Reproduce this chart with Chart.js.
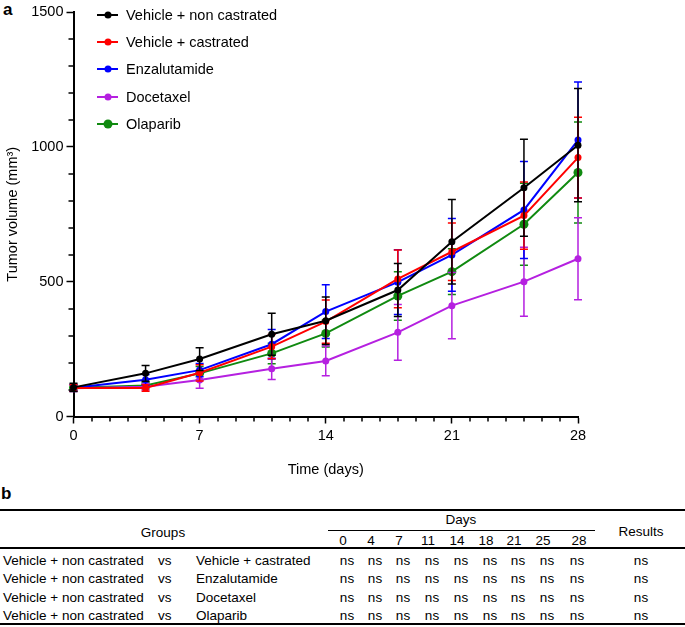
<!DOCTYPE html>
<html>
<head>
<meta charset="utf-8">
<script src="https://cdn.jsdelivr.net/npm/chart.js@4.4.1/dist/chart.umd.min.js"></script>
<style>
  body { margin: 0; background: #fff; font-family: "Liberation Sans", Arial, sans-serif; color: #000; }
  #wrap { position: relative; width: 685px; height: 627px; overflow: hidden; }
  #chartBox { position: absolute; left: 0; top: 0; width: 685px; height: 480px; }
  .panel { position: absolute; font-weight: bold; font-size: 17px; line-height: 1; }
  .leg-row { position: absolute; left: 97px; height: 18px; transform: translateY(-50%); display: flex; align-items: center; font-size: 14.5px; white-space: nowrap; }
  .leg-sym { position: relative; width: 21px; height: 18px; margin-right: 8px; }
  .leg-sym .ln { position: absolute; left: 0; right: 0; top: 8px; height: 2px; }
  .leg-sym .dot { position: absolute; left: 50%; top: 9px; border-radius: 50%; transform: translate(-50%, -50%); }
  .cell { position: absolute; font-size: 13.5px; white-space: nowrap; line-height: 1; }
  .c { transform: translate(-50%, -50%); }
  .l { transform: translateY(-50%); }
  .rule { position: absolute; background: #000; }
</style>
</head>
<body>
<div id="wrap">
  <div class="panel" style="left:3px;top:1px;">a</div>
  <div id="chartBox"><canvas id="tumorChart"></canvas></div>
  <div id="legend"></div>
  <div class="panel" style="left:1px;top:485px;">b</div>
  <div id="statsTable"></div>
</div>

<script>
const days = [0, 4, 7, 11, 14, 18, 21, 25, 28];

const groupNames = ['Vehicle + non castrated', 'Vehicle + castrated', 'Enzalutamide', 'Docetaxel', 'Olaparib'];
const groupColors = ['#000000', '#ff0000', '#0000ff', '#b520e0', '#108a10'];

// mean tumour volume (mm3) and SEM per day
const nonCastrated    = [108, 160, 213, 305, 355, 469, 648, 848, 1006];
const nonCastratedSem = [15, 29, 42, 78, 88, 98, 157, 180, 210];
const castrated       = [106, 106, 162, 259, 352, 510, 611, 745, 960];
const castratedSem    = [12, 12, 30, 45, 80, 107, 107, 125, 150];
const enzalutamide    = [107, 136, 172, 268, 389, 498, 599, 766, 1025];
const enzalutamideSem = [12, 20, 25, 55, 100, 120, 135, 180, 215];
const docetaxel       = [105, 110, 135, 177, 206, 312, 411, 500, 585];
const docetaxelSem    = [12, 12, 30, 40, 55, 103, 123, 128, 152];
const olaparib        = [107, 115, 160, 234, 308, 447, 537, 713, 905];
const olaparibSem     = [12, 12, 25, 38, 50, 90, 85, 152, 187];

const yTicks = [0, 500, 1000, 1500];
const xTicks = [0, 7, 14, 21, 28];

// panel b
const comparedWith = ['Vehicle + castrated', 'Enzalutamide', 'Docetaxel', 'Olaparib'];
const dayResults = [
  ['ns', 'ns', 'ns', 'ns', 'ns', 'ns', 'ns', 'ns', 'ns'],
  ['ns', 'ns', 'ns', 'ns', 'ns', 'ns', 'ns', 'ns', 'ns'],
  ['ns', 'ns', 'ns', 'ns', 'ns', 'ns', 'ns', 'ns', 'ns'],
  ['ns', 'ns', 'ns', 'ns', 'ns', 'ns', 'ns', 'ns', 'ns']
];
const overallResults = ['ns', 'ns', 'ns', 'ns'];

const means = [nonCastrated, castrated, enzalutamide, docetaxel, olaparib];
const sems = [nonCastratedSem, castratedSem, enzalutamideSem, docetaxelSem, olaparibSem];

const errorBars = {
  id: 'errorBars',
  beforeDatasetDraw(chart, args) {
    const ds = chart.data.datasets[args.index];
    const yScale = chart.scales.y;
    const ctx = chart.ctx;
    ctx.save();
    ctx.strokeStyle = ds.borderColor;
    ctx.lineWidth = 1.5;
    args.meta.data.forEach((pt, i) => {
      const v = ds.data[i].y;
      const e = ds.sem[i];
      const top = yScale.getPixelForValue(v + e);
      const bot = yScale.getPixelForValue(v - e);
      ctx.beginPath();
      ctx.moveTo(pt.x, top); ctx.lineTo(pt.x, bot);
      ctx.moveTo(pt.x - 4, top); ctx.lineTo(pt.x + 4, top);
      ctx.moveTo(pt.x - 4, bot); ctx.lineTo(pt.x + 4, bot);
      ctx.stroke();
    });
    ctx.restore();
  }
};

// small ticks every day / every 100 mm3
const minorTicks = {
  id: 'minorTicks',
  afterDraw(chart) {
    const { ctx, chartArea, scales } = chart;
    ctx.save();
    ctx.strokeStyle = '#000';
    ctx.lineWidth = 1.5;
    ctx.beginPath();
    for (let d = 0; d <= 28; d++) {
      if (xTicks.includes(d)) continue;
      const px = Math.round(scales.x.getPixelForValue(d));
      ctx.moveTo(px, chartArea.bottom); ctx.lineTo(px, chartArea.bottom + 5);
    }
    for (let v = 0; v <= 1500; v += 100) {
      if (yTicks.includes(v)) continue;
      const py = Math.round(scales.y.getPixelForValue(v));
      ctx.moveTo(chartArea.left - 5, py); ctx.lineTo(chartArea.left, py);
    }
    ctx.stroke();
    ctx.restore();
  }
};

const axisFont = { family: '"Liberation Sans", Arial, sans-serif', size: 14.5 };

const chart = new Chart(document.getElementById('tumorChart'), {
  type: 'line',
  data: {
    datasets: groupNames.map((name, g) => ({
      label: name,
      data: days.map((d, i) => ({ x: d, y: means[g][i] })),
      sem: sems[g],
      borderColor: groupColors[g],
      backgroundColor: groupColors[g],
      pointBackgroundColor: groupColors[g],
      pointBorderWidth: 0,
      pointRadius: g === 4 ? 4.5 : 3.5,
      borderWidth: 2,
      tension: 0,
      clip: false
    }))
  },
  options: {
    responsive: true,
    maintainAspectRatio: false,
    animation: false,
    layout: { padding: { top: 12, right: 107, left: 0, bottom: 0 } },
    plugins: { legend: { display: false }, tooltip: { enabled: false } },
    scales: {
      x: {
        type: 'linear', min: 0, max: 28,
        afterBuildTicks: s => { s.ticks = xTicks.map(v => ({ value: v })); },
        afterFit: s => { s.height = 63.5; },
        ticks: { color: '#000', font: axisFont, padding: 4, maxRotation: 0, callback: v => String(v) },
        grid: { drawOnChartArea: false, tickLength: 7, tickColor: '#000', tickWidth: 1.5 },
        border: { color: '#000', width: 2 },
        title: { display: true, text: 'Time (days)', color: '#000', font: axisFont, padding: { top: 0, bottom: 1 } }
      },
      y: {
        min: 0, max: 1500,
        afterBuildTicks: s => { s.ticks = yTicks.map(v => ({ value: v })); },
        afterFit: s => { s.width = 73.5; },
        ticks: { color: '#000', font: axisFont, padding: 3, callback: v => String(v) },
        grid: { drawOnChartArea: false, tickLength: 7, tickColor: '#000', tickWidth: 1.5 },
        border: { color: '#000', width: 2 },
        title: { display: true, text: 'Tumor volume (mm³)', color: '#000', font: axisFont, padding: { top: 4, bottom: 0 } }
      }
    }
  },
  plugins: [errorBars, minorTicks]
});

function renderLegend() {
  const box = document.getElementById('legend');
  const rowY = [14.5, 41.8, 69, 96.5, 123.5];
  box.innerHTML = chart.data.datasets.map((ds, i) => {
    const r = ds.pointRadius * 2;
    return `<div class="leg-row" style="top:${rowY[i]}px">
      <div class="leg-sym"><div class="ln" style="background:${ds.borderColor}"></div>
      <div class="dot" style="width:${r}px;height:${r}px;background:${ds.borderColor}"></div></div>
      <span>${ds.label}</span></div>`;
  }).join('');
}

function renderTable() {
  const el = document.getElementById('statsTable');
  const headX = [343, 371, 399, 428, 457, 486, 514, 543, 579];
  const cellX = [347, 375, 403, 432, 461, 490, 518, 547, 577];
  const rowY = [561, 579, 597.5, 616];
  let html = '';
  html += `<div class="rule" style="left:0;top:509px;width:685px;height:1.5px"></div>`;
  html += `<div class="rule" style="left:328px;top:529.5px;width:267px;height:1.3px"></div>`;
  html += `<div class="rule" style="left:0;top:547px;width:685px;height:1.5px"></div>`;
  html += `<div class="rule" style="left:0;top:623px;width:685px;height:1.5px"></div>`;
  html += `<div class="cell c" style="left:163px;top:533px">Groups</div>`;
  html += `<div class="cell c" style="left:461px;top:520px">Days</div>`;
  html += `<div class="cell c" style="left:641px;top:532px">Results</div>`;
  days.forEach((d, i) => {
    html += `<div class="cell c" style="left:${headX[i]}px;top:541px">${d}</div>`;
  });
  comparedWith.forEach((name, r) => {
    const y = rowY[r];
    html += `<div class="cell l" style="left:3px;top:${y}px">${groupNames[0]}</div>`;
    html += `<div class="cell l" style="left:158px;top:${y}px">vs</div>`;
    html += `<div class="cell l" style="left:196px;top:${y}px">${name}</div>`;
    dayResults[r].forEach((res, i) => {
      html += `<div class="cell c" style="left:${cellX[i]}px;top:${y}px">${res}</div>`;
    });
    html += `<div class="cell c" style="left:641px;top:${y}px">${overallResults[r]}</div>`;
  });
  el.innerHTML = html;
}

renderLegend();
renderTable();
</script>
</body>
</html>
